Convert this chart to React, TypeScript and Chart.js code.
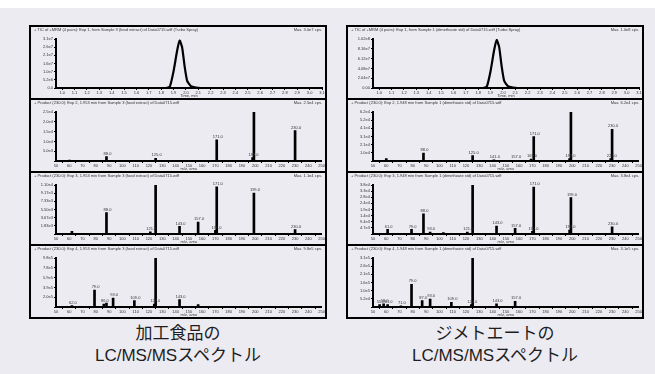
import React, { useEffect, useRef } from "react";
import { Chart, registerables } from "chart.js";
Chart.register(...registerables);

// ---------- Chromatogram data (TIC, time in min) ----------
const chromTimeMin = [0.95, 1.6, 1.84, 1.87, 1.9, 1.93, 1.95, 1.97, 1.99, 2.01, 2.04, 2.08, 2.12, 2.5, 3.1];
const foodTic = [0, 0, 0, 9e5, 1.05e7, 2.4e7, 3.0e7, 2.55e7, 1.35e7, 4.5e6, 1.2e6, 3e5, 0, 0, 0];
const stdTic = [0, 0, 0, 3e6, 3.5e7, 8.0e7, 1.0e8, 8.5e7, 4.5e7, 1.5e7, 4e6, 1e6, 0, 0, 0];

// ---------- Product-ion spectra of m/z 230 (food sample) ----------
const foodSpec1Mz = [60.1, 88.0, 125.0, 142.9, 171.0, 198.0, 199.0, 230.0];
const foodSpec1Int = [500, 2.2e3, 1.4e3, 400, 1.08e4, 1.8e3, 2.5e4, 1.55e4];
const foodSpec1Lbl = ["", "88.0", "125.0", "", "171.0", "198.0", "", "230.0"];

const foodSpec2Mz = [62.0, 88.0, 121.0, 125.0, 143.0, 157.0, 170.0, 171.0, 199.0, 230.0];
const foodSpec2Int = [600, 4.8e3, 500, 1.1e4, 1.7e3, 2.7e3, 800, 1.06e4, 9.2e3, 1.0e3];
const foodSpec2Lbl = ["", "88.0", "121.0", "", "143.0", "157.0", "170.0", "171.0", "199.0", "230.0"];

const foodSpec3Mz = [62.0, 79.0, 86.0, 88.0, 93.0, 109.0, 124.0, 125.0, 143.0, 157.0];
const foodSpec3Int = [3e4, 3.4e5, 6e4, 8e4, 1.8e5, 1.3e5, 6e4, 9.8e5, 1.5e5, 5e4];
const foodSpec3Lbl = ["62.0", "79.0", "86.0", "", "93.0", "109.0", "124.0", "", "143.0", ""];

// ---------- Product-ion spectra of m/z 230 (dimethoate standard) ----------
const stdSpec1Mz = [60.0, 88.0, 125.0, 141.0, 157.0, 169.0, 171.0, 198.0, 199.0, 229.0, 230.0];
const stdSpec1Int = [3e3, 1.0e4, 7e3, 1.5e3, 1e3, 2.5e3, 3.1e4, 3e3, 6.2e4, 3e3, 4.0e4];
const stdSpec1Lbl = ["", "88.0", "125.0", "141.0", "157.0", "169.0", "171.0", "198.0", "", "229.0", "230.0"];

const stdSpec2Mz = [61.0, 79.0, 88.0, 93.0, 103.0, 121.0, 125.0, 143.0, 157.0, 170.0, 171.0, 198.0, 199.0, 230.0];
const stdSpec2Int = [3.5e3, 3.5e3, 1.55e4, 1.5e3, 1e3, 1.5e3, 3.76e4, 6e3, 4.3e3, 2e3, 3.6e4, 3e3, 2.8e4, 5.5e3];
const stdSpec2Lbl = ["61.0", "79.0", "88.0", "93.0", "", "121.0", "", "143.0", "157.0", "170.0", "171.0", "198.0", "199.0", "230.0"];

const stdSpec3Mz = [55.0, 58.0, 61.0, 71.0, 79.0, 87.0, 93.0, 109.0, 124.0, 125.0, 143.0, 157.0];
const stdSpec3Int = [1.5e4, 2e4, 1.5e4, 8e3, 1.44e5, 4e4, 5e4, 3e4, 1.5e4, 3.1e5, 2e4, 3.6e4];
const stdSpec3Lbl = ["55.0", "58.0", "61.0", "71.0", "79.0", "87.0", "93.0", "109.0", "124.0", "", "143.0", "157.0"];

// ---------- Headers / captions ----------
const foodHeaders = [
  ["+ TIC of +MRM (4 pairs): Exp 1, from Sample 3 (food extract) of Data0715.wiff (Turbo Spray)", "Max. 3.0e7 cps."],
  ["+ Product (230.0): Exp 2, 1.953 min from Sample 3 (food extract) of Data0715.wiff", "Max. 2.5e4 cps."],
  ["+ Product (230.0): Exp 3, 1.953 min from Sample 3 (food extract) of Data0715.wiff", "Max. 1.1e4 cps."],
  ["+ Product (230.0): Exp 4, 1.953 min from Sample 3 (food extract) of Data0715.wiff", "Max. 9.8e5 cps."],
];
const stdHeaders = [
  ["+ TIC of +MRM (4 pairs): Exp 1, from Sample 1 (dimethoate std) of Data0715.wiff (Turbo Spray)", "Max. 1.0e8 cps."],
  ["+ Product (230.0): Exp 2, 1.948 min from Sample 1 (dimethoate std) of Data0715.wiff", "Max. 6.2e4 cps."],
  ["+ Product (230.0): Exp 3, 1.948 min from Sample 1 (dimethoate std) of Data0715.wiff", "Max. 3.8e4 cps."],
  ["+ Product (230.0): Exp 4, 1.948 min from Sample 1 (dimethoate std) of Data0715.wiff", "Max. 3.1e5 cps."],
];
const foodCaption = ["加工食品の", "LC/MS/MSスペクトル"];
const stdCaption = ["ジメトエートの", "LC/MS/MSスペクトル"];

const BG = "rgb(236,235,242)";
const ROW_W = 294;
const ROW_H = 71;
const TXT = "#333";
const TINY = { size: 4, family: "Arial, 'Liberation Sans', sans-serif" };

const fmt = (v: number, d: number) => v.toExponential(d).replace("e+", "e");

function headerPlugin(left: string, right: string) {
  return {
    id: "hdr",
    afterDraw(chart: any) {
      const ctx = chart.ctx;
      ctx.save();
      ctx.fillStyle = TXT;
      ctx.font = "4px Arial, 'Liberation Sans', sans-serif";
      ctx.textBaseline = "top";
      ctx.textAlign = "left";
      ctx.fillText(left, 3, 1);
      ctx.textAlign = "right";
      ctx.fillText(right, chart.width - 3, 1);
      ctx.restore();
    },
  };
}

function peakLabelPlugin(labels: string[]) {
  return {
    id: "pk",
    afterDatasetsDraw(chart: any) {
      const meta = chart.getDatasetMeta(0);
      const ctx = chart.ctx;
      ctx.save();
      ctx.fillStyle = TXT;
      ctx.font = "4px Arial, 'Liberation Sans', sans-serif";
      ctx.textAlign = "center";
      ctx.textBaseline = "bottom";
      meta.data.forEach((el: any, i: number) => {
        const t = labels[i];
        if (t) ctx.fillText(t, el.x + 1, el.y - 1);
      });
      ctx.restore();
    },
  };
}

type ChartProps = {
  kind: "chrom" | "spec";
  xs: number[];
  ys: number[];
  labels?: string[];
  yMax: number;
  yStep: number;
  digits: number;
  header: string[];
};

function SubChart(p: ChartProps) {
  const ref = useRef<HTMLCanvasElement | null>(null);
  useEffect(() => {
    if (!ref.current) return;
    const isChrom = p.kind === "chrom";
    const points = p.xs.map((x, i) => ({ x, y: p.ys[i] }));
    const plugins: any[] = [headerPlugin(p.header[0], p.header[1])];
    if (!isChrom && p.labels) plugins.push(peakLabelPlugin(p.labels));
    const chart = new Chart(ref.current, {
      type: isChrom ? "line" : "bar",
      data: {
        datasets: [
          isChrom
            ? {
                data: points,
                borderColor: "#000",
                borderWidth: 2.2,
                pointRadius: 0,
                tension: 0.15,
                fill: false,
              }
            : {
                data: points,
                backgroundColor: "#000",
                borderWidth: 0,
                barThickness: 2,
              },
        ] as any,
      },
      options: {
        animation: false,
        responsive: false,
        events: [],
        layout: { padding: { top: 12, right: 3, left: 0, bottom: 0 } },
        plugins: { legend: { display: false }, tooltip: { enabled: false }, title: { display: false } },
        scales: {
          x: {
            type: "linear",
            offset: false,
            min: isChrom ? 0.95 : 50,
            max: isChrom ? 3.1 : 250,
            grid: { drawOnChartArea: false, drawTicks: true, tickLength: 2, color: "#000" },
            border: { color: "#000", width: 2 },
            ticks: {
              stepSize: isChrom ? 0.1 : 10,
              includeBounds: false,
              autoSkip: false,
              maxRotation: 0,
              minRotation: 0,
              padding: 0,
              color: TXT,
              font: TINY,
              callback: (v: any) => (isChrom ? Number(v).toFixed(1) : String(Math.round(Number(v)))),
            },
            title: { display: true, text: isChrom ? "Time, min" : "m/z, amu", color: TXT, font: TINY, padding: 0 },
            afterFit: (s: any) => {
              s.height = 10;
            },
          },
          y: {
            min: 0,
            max: p.yMax,
            grid: { drawOnChartArea: false, drawTicks: true, tickLength: 2, color: "#000" },
            border: { color: "#000", width: 2 },
            ticks: {
              stepSize: p.yStep,
              autoSkip: false,
              padding: 1,
              color: TXT,
              font: TINY,
              callback: (v: any) => {
                const n = Number(v);
                if (n === 0) return isChrom ? (p.digits === 1 ? "0.0" : "0.00") : "";
                return fmt(n, p.digits);
              },
            },
            afterFit: (s: any) => {
              s.width = 25;
            },
          },
        },
      } as any,
      plugins,
    });
    return () => chart.destroy();
  }, []);
  return <canvas ref={ref} width={ROW_W} height={ROW_H} style={{ display: "block", width: ROW_W, height: ROW_H }} />;
}

function Panel(props: { left: number; rows: ChartProps[]; caption: string[] }) {
  return (
    <>
      <div
        style={{
          position: "absolute",
          left: props.left,
          top: 25,
          width: ROW_W,
          border: "2px solid #000",
          background: BG,
        }}
      >
        {props.rows.map((r, i) => (
          <div key={i} style={{ borderTop: i === 0 ? "none" : "2px solid #000", height: ROW_H, background: BG }}>
            <SubChart {...r} />
          </div>
        ))}
      </div>
      <div
        style={{
          position: "absolute",
          left: props.left - 20,
          width: ROW_W + 44,
          top: 323,
          textAlign: "center",
          fontFamily: "'Liberation Sans', Arial, 'Noto Sans CJK JP', sans-serif",
          fontSize: 17,
          lineHeight: "22px",
          color: "#1e1e1e",
        }}
      >
        <div>{props.caption[0]}</div>
        <div>{props.caption[1]}</div>
      </div>
    </>
  );
}

export default function App() {
  const foodRows: ChartProps[] = [
    { kind: "chrom", xs: chromTimeMin, ys: foodTic, yMax: 3.1e7, yStep: 5e6, digits: 1, header: foodHeaders[0] },
    { kind: "spec", xs: foodSpec1Mz, ys: foodSpec1Int, labels: foodSpec1Lbl, yMax: 2.5e4, yStep: 5e3, digits: 1, header: foodHeaders[1] },
    { kind: "spec", xs: foodSpec2Mz, ys: foodSpec2Int, labels: foodSpec2Lbl, yMax: 1.1e4, yStep: 2e3, digits: 2, header: foodHeaders[2] },
    { kind: "spec", xs: foodSpec3Mz, ys: foodSpec3Int, labels: foodSpec3Lbl, yMax: 9.8e5, yStep: 2e5, digits: 1, header: foodHeaders[3] },
  ];
  const stdRows: ChartProps[] = [
    { kind: "chrom", xs: chromTimeMin, ys: stdTic, yMax: 1.02e8, yStep: 2e7, digits: 2, header: stdHeaders[0] },
    { kind: "spec", xs: stdSpec1Mz, ys: stdSpec1Int, labels: stdSpec1Lbl, yMax: 6.2e4, yStep: 1e4, digits: 1, header: stdHeaders[1] },
    { kind: "spec", xs: stdSpec2Mz, ys: stdSpec2Int, labels: stdSpec2Lbl, yMax: 3.76e4, yStep: 5e3, digits: 1, header: stdHeaders[2] },
    { kind: "spec", xs: stdSpec3Mz, ys: stdSpec3Int, labels: stdSpec3Lbl, yMax: 3.1e5, yStep: 5e4, digits: 1, header: stdHeaders[3] },
  ];
  return (
    <div style={{ position: "fixed", left: 0, top: 0, width: 655, height: 374, background: "#fff", overflow: "hidden" }}>
      <div style={{ position: "absolute", left: 0, top: 8, width: 655, height: 366, background: BG }} />
      <div style={{ position: "absolute", left: 0, top: 0, width: 655, height: 374 }}>
        <Panel left={29} rows={foodRows} caption={foodCaption} />
        <Panel left={346} rows={stdRows} caption={stdCaption} />
      </div>
    </div>
  );
}
